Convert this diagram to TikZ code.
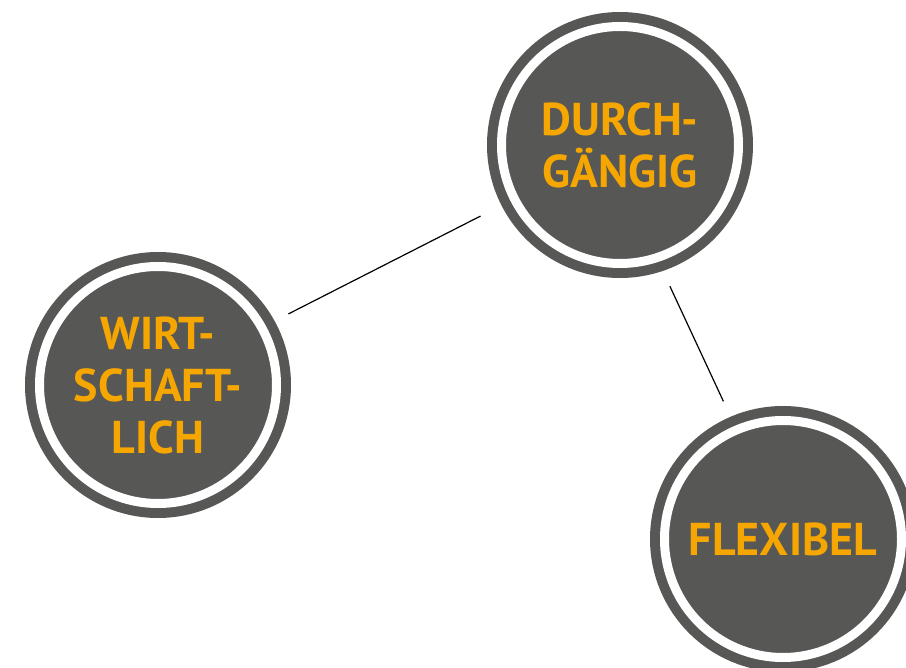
\documentclass[tikz,border=0pt]{standalone}
\usepackage{fontspec}
\setsansfont{PT Sans}
\usepackage{tikz}
\usetikzlibrary{positioning}
\definecolor{ringgray}{RGB}{87,87,86}
\definecolor{signalorange}{RGB}{245,166,0}

\tikzset{
  bubble/.style={circle, minimum size=237pt, inner sep=0pt, outer sep=0pt,
    fill=ringgray, draw=ringgray, double=white, double distance=9pt,
    line width=10pt, text=signalorange, align=center,
    font=\sffamily\bfseries\fontsize{46}{52}\selectfont},
  link/.style={draw=black, line width=1.2pt}
}

\begin{document}
\begin{tikzpicture}[x=1pt, y=-1pt]
  \useasboundingbox (0,0) rectangle (906,668);

  % the three qualities
  \node[bubble] (dg) at (620,145) {DURCH-\\GÄNGIG};
  \node[bubble] (wl) at (158,385) {WIRT-\\SCHAFT-\\LICH};
  \node[bubble] (fx) at (783,539) {FLEXIBEL};

  % connectors
  \draw[link, shorten <=30pt, shorten >=38pt] (wl.29) -- (dg.207);
  \draw[link, shorten <=31.5pt, shorten >=31.5pt] (dg.-72) -- (fx.113);
\end{tikzpicture}
\end{document}
